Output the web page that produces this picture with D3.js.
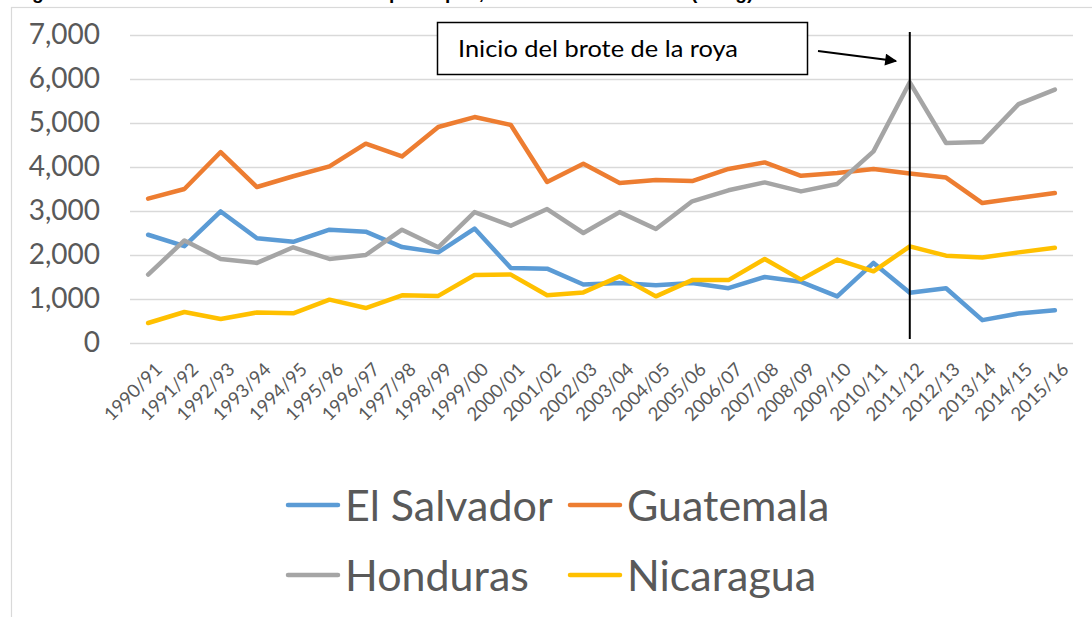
<!DOCTYPE html>
<html>
<head>
<meta charset="utf-8">
<script src="https://cdn.jsdelivr.net/npm/d3@7"></script>
<style>
  html, body { margin: 0; padding: 0; background: #fff; }
  svg { display: block; }
</style>
</head>
<body>
<svg id="chart" width="1092" height="617"></svg>
<script>
// ---- data ----
const categories = ["1990/91","1991/92","1992/93","1993/94","1994/95","1995/96","1996/97","1997/98","1998/99","1999/00","2000/01","2001/02","2002/03","2003/04","2004/05","2005/06","2006/07","2007/08","2008/09","2009/10","2010/11","2011/12","2012/13","2013/14","2014/15","2015/16"];
const elSalvador = [2460,2200,2990,2380,2300,2575,2530,2180,2060,2600,1705,1690,1330,1365,1310,1365,1245,1500,1390,1060,1820,1140,1245,520,670,745];
const guatemala  = [3280,3500,4340,3545,3790,4015,4530,4240,4910,5135,4955,3660,4075,3635,3705,3680,3955,4105,3800,3865,3955,3850,3760,3180,3295,3410];
const honduras   = [1555,2330,1910,1820,2175,1910,2000,2575,2175,2975,2665,3045,2500,2975,2590,3220,3470,3650,3445,3615,4355,5925,4545,4570,5430,5760];
const nicaragua  = [455,705,545,695,675,985,795,1085,1070,1545,1555,1085,1150,1515,1060,1430,1430,1910,1440,1895,1630,2195,1985,1945,2060,2165];
const seriesNames = ["El Salvador","Guatemala","Honduras","Nicaragua"];
const seriesValues = [elSalvador, guatemala, honduras, nicaragua];
const seriesColors = ["#5B9BD5","#ED7D31","#A5A5A5","#FFC000"];
const yTicks = [0,1000,2000,3000,4000,5000,6000,7000];
const annotationText = "Inicio del brote de la roya";
const annotationCategory = "2011/12";
const titleParts = ["Figura 1. Producción de café", "per cápita, Centroamérica", "(en kg)"];

// ---- layout ----
const svg = d3.select("#chart");
const plotLeft = 130, plotRight = 1073, plotTop = 35, plotBottom = 343;
const textColor = "#595959";

// frame
svg.append("rect").attr("x", 11.5).attr("y", 7.5).attr("width", 1100).attr("height", 640)
  .attr("fill", "#fff").attr("stroke", "#D9D9D9").attr("stroke-width", 1.2);

// title (mostly cut off above the picture, only descenders visible)
const titleX = [15, 389, 691];
const titleG = svg.append("g").attr("font-family", "Liberation Sans, Arial, sans-serif")
  .attr("font-weight", "bold").attr("font-size", 19).attr("fill", "#000");
titleParts.forEach((t, i) => titleG.append("text").attr("x", titleX[i]).attr("y", -1.5).text(t));

const x = d3.scalePoint().domain(categories).range([plotLeft, plotRight]).padding(0.5);
const y = d3.scaleLinear().domain([0, 7000]).range([plotBottom, plotTop]);

// y axis with gridlines
const yAxis = svg.append("g").attr("transform", `translate(${plotLeft},0)`)
  .call(d3.axisLeft(y).tickValues(yTicks).tickFormat(d3.format(",")).tickSize(-(plotRight - plotLeft)).tickPadding(30));
yAxis.select(".domain").remove();
yAxis.selectAll(".tick line").attr("stroke", "#D9D9D9").attr("stroke-width", 1.3);
yAxis.selectAll(".tick text").attr("fill", textColor).attr("font-family", "Lato, sans-serif")
  .attr("font-size", 28);

// x axis
const xAxis = svg.append("g").attr("transform", `translate(0,${plotBottom})`)
  .call(d3.axisBottom(x).tickSize(0).tickPadding(0));
xAxis.select(".domain").remove();
xAxis.selectAll(".tick text")
  .attr("fill", textColor).attr("font-family", "Lato, sans-serif").attr("font-size", 18.5)
  .attr("text-anchor", "end").attr("dy", "0.35em")
  .attr("transform", "translate(10,23) rotate(-45)");

// lines
const line = d3.line().x((d, i) => x(categories[i])).y(d => y(d));
seriesValues.forEach((vals, k) => {
  svg.append("path").datum(vals).attr("d", line)
    .attr("fill", "none").attr("stroke", seriesColors[k]).attr("stroke-width", 4.5)
    .attr("stroke-linejoin", "round").attr("stroke-linecap", "round");
});

// annotation vertical line
const vx = x(annotationCategory);
svg.append("line").attr("x1", vx).attr("x2", vx).attr("y1", 32).attr("y2", 339)
  .attr("stroke", "#000").attr("stroke-width", 2);

// annotation box
svg.append("rect").attr("x", 437.5).attr("y", 22.5).attr("width", 370).attr("height", 52)
  .attr("fill", "#fff").attr("stroke", "#000").attr("stroke-width", 1.5);
svg.append("text").attr("x", 458).attr("y", 57).attr("font-family", "Lato, sans-serif")
  .attr("font-size", 23).attr("fill", "#000").attr("textLength", 280).attr("lengthAdjust", "spacingAndGlyphs")
  .text(annotationText);

// arrow
svg.append("defs").append("marker").attr("id", "arrow").attr("viewBox", "0 0 10 10")
  .attr("refX", 9).attr("refY", 5).attr("markerWidth", 7).attr("markerHeight", 6)
  .attr("markerUnits", "strokeWidth").attr("orient", "auto")
  .append("path").attr("d", "M0,0 L10,5 L0,10 z").attr("fill", "#000");
svg.append("line").attr("x1", 818).attr("y1", 51).attr("x2", 896).attr("y2", 61)
  .attr("stroke", "#000").attr("stroke-width", 2).attr("marker-end", "url(#arrow)");

// legend
const legendPos = [[288, 505], [570, 505], [288, 575], [570, 575]];
seriesNames.forEach((name, k) => {
  const [lx, ly] = legendPos[k];
  svg.append("line").attr("x1", lx).attr("x2", lx + 50).attr("y1", ly).attr("y2", ly)
    .attr("stroke", seriesColors[k]).attr("stroke-width", 4.5).attr("stroke-linecap", "round");
  svg.append("text").attr("x", lx + 57).attr("y", ly + 16).attr("font-family", "Lato, sans-serif")
    .attr("font-size", 43).attr("fill", textColor).text(name);
});
</script>
</body>
</html>
